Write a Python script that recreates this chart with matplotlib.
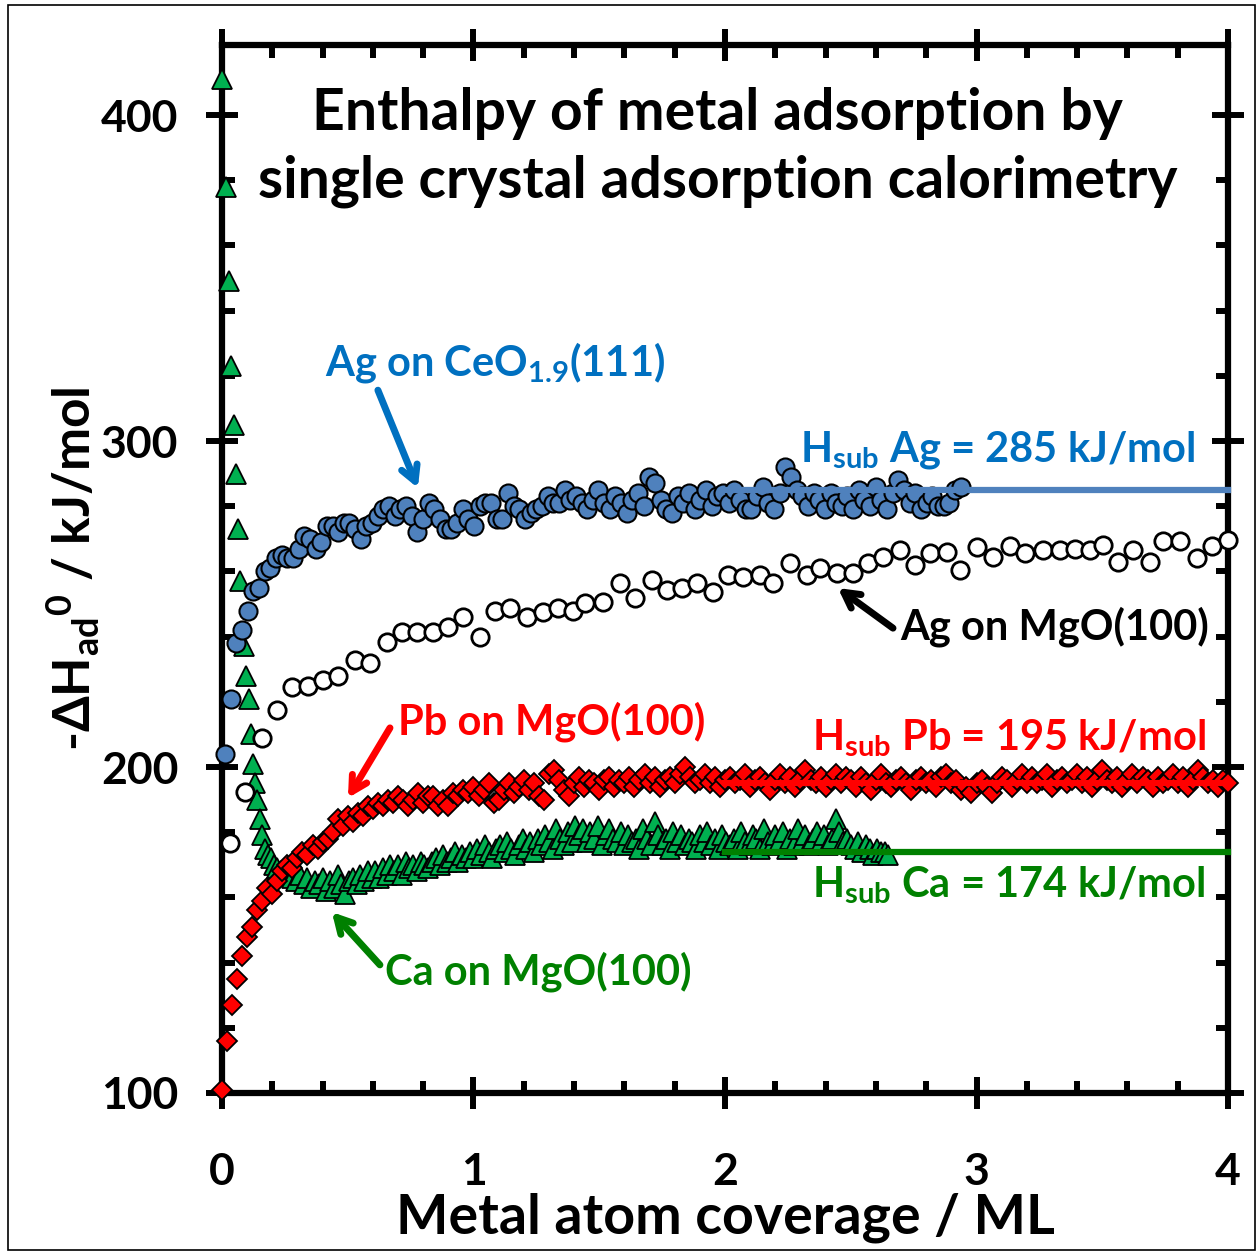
import numpy as np
import matplotlib
matplotlib.use("Agg")
import matplotlib.pyplot as plt
from matplotlib.patches import Rectangle

plt.rcParams['font.family'] = ['Lato', 'DejaVu Sans']
plt.rcParams['font.weight'] = 'bold'
plt.rcParams['axes.labelweight'] = 'bold'
plt.rcParams['mathtext.default'] = 'regular'

# Ag on CeO1.9(111): one point per pulse, constant pulse size
ag_ceo_x0, ag_ceo_step = 0.012, 0.0225
ag_ceo_y = [204, 221, 238, 242, 248, 254, 255, 260, 261, 264,
            265, 264, 264, 267, 271, 270, 267, 269, 274, 274,
            272, 275, 275, 273, 270, 274, 275, 277, 279, 280,
            277, 279, 280, 277, 272, 276, 281, 279, 276, 273,
            273, 275, 279, 276, 274, 280, 281, 281, 276, 276,
            284, 280, 279, 276, 278, 279, 280, 283, 281, 281,
            285, 282, 283, 281, 279, 282, 285, 281, 279, 283,
            281, 278, 282, 284, 280, 289, 287, 282, 279, 278,
            283, 281, 284, 279, 282, 285, 280, 283, 284, 281,
            285, 282, 279, 279, 283, 286, 281, 279, 284, 292,
            289, 285, 283, 280, 284, 282, 279, 284, 281, 280,
            283, 279, 285, 282, 280, 286, 282, 279, 284, 288,
            285, 281, 284, 279, 281, 283, 280, 280, 281, 285, 286]

# Ag on MgO(100)
ag_mgo_x = [0.032, 0.091, 0.159, 0.219, 0.278, 0.342, 0.402, 0.461, 0.529, 0.588,
            0.656, 0.716, 0.775, 0.839, 0.899, 0.958, 1.026, 1.085, 1.145, 1.213,
            1.276, 1.336, 1.396, 1.445, 1.515, 1.583, 1.642, 1.710, 1.769, 1.829,
            1.889, 1.952, 2.012, 2.072, 2.139, 2.191, 2.258, 2.326, 2.378, 2.445,
            2.509, 2.569, 2.628, 2.696, 2.755, 2.815, 2.883, 2.934, 3.002, 3.066,
            3.133, 3.193, 3.264, 3.332, 3.392, 3.451, 3.503, 3.563, 3.622, 3.690,
            3.742, 3.809, 3.877, 3.936, 4.000]
ag_mgo_y = [176.7, 192.3, 208.9, 217.5, 224.5, 225.0, 226.7, 228.0, 232.8, 232.0,
            238.3, 241.4, 241.4, 241.4, 243.0, 246.0, 240.0, 248.0, 248.8, 246.0,
            247.5, 248.8, 248.0, 250.3, 250.6, 256.4, 252.0, 257.4, 254.3, 255.0,
            256.4, 253.7, 258.9, 258.3, 258.9, 256.4, 262.6, 258.9, 261.0, 259.5,
            259.5, 262.6, 264.4, 266.6, 262.0, 265.6, 266.0, 260.4, 267.5, 264.4,
            267.8, 265.6, 266.6, 266.6, 266.9, 266.6, 268.0, 262.9, 266.6, 262.9,
            269.3, 269.3, 264.1, 267.8, 269.6]

# Pb on MgO(100)
pb_x0, pb_step = 0.0, 0.02
pb_y = [101, 116, 127, 135, 142, 148, 151, 156, 159, 163,
        161, 165, 168, 170, 169, 172, 174, 173, 176, 175,
        177, 178, 180, 184, 182, 185, 183, 186, 185, 188,
        187, 189, 188, 190, 189, 191, 190, 188, 190, 192,
        189, 191, 191, 188, 190, 188, 192, 191, 193, 192,
        194, 191, 193, 195, 189, 190, 193, 195, 192, 194,
        196, 193, 195, 191, 190, 198, 199, 196, 193, 191,
        195, 197, 194, 196, 195, 193, 196, 197, 194, 196,
        195, 197, 194, 196, 198, 195, 197, 194, 196, 197,
        195, 198, 200, 197, 195, 196, 198, 195, 197, 194,
        196,
        197, 195, 196, 198, 194, 196, 197, 195, 193, 196, 198, 195, 197, 194, 196, 199, 196, 195, 197, 194,
        196, 198, 195, 197, 196, 194, 197, 195, 193, 196, 198, 195, 194, 196, 197, 195, 193, 196, 197, 195,
        196, 194, 197, 198, 195, 196, 193, 194, 192, 195, 196, 194, 192, 195, 197, 196, 194, 196, 198, 195,
        197, 195, 196, 198, 194, 196, 197, 195, 196, 198, 195, 197, 194, 196, 199, 196, 195, 197, 194, 196,
        198, 195, 197, 196, 194, 197, 195, 196, 198, 195, 197, 194, 196, 199, 197, 195, 196, 194, 196, 195]

# Ca on MgO(100): first pulses, then constant pulse size
ca_x_init = [0.0, 0.016, 0.028, 0.036, 0.048, 0.056, 0.064, 0.072, 0.087, 0.095, 0.107,
             0.115, 0.123, 0.131, 0.139, 0.151, 0.159, 0.171, 0.183, 0.195, 0.207, 0.219]
ca_y_init = [411, 378, 349, 323, 305, 290, 273, 257, 237, 228, 221,
             210, 201, 195, 190, 184, 179, 175, 173, 172, 170, 169]
ca_x0, ca_step = 0.235, 0.015
ca_y = [168, 167, 169, 166, 165, 167, 164, 166, 163, 165,
        164, 166, 162, 165, 163, 167, 164, 161, 165, 166,
        164, 167, 165, 168, 166, 168, 166, 169, 167, 170,
        168, 170, 167, 171, 169, 170, 168, 171, 170, 169,
        171, 172, 170, 173, 171, 172, 174, 171, 173, 172,
        174, 172, 175, 173, 176, 174, 172, 175, 176, 174,
        177, 175, 173, 176, 178, 175, 177, 174, 178, 176,
        179, 177, 175, 181, 178, 176, 180, 177, 182, 179,
        181, 177, 180, 178, 182, 176, 179, 181, 178, 177,
        180, 176, 179, 177, 178, 175, 181, 178, 176, 183,
        179, 176, 178, 175, 180, 177, 179, 176, 178, 177,
        175, 179, 177, 180, 176, 178, 175, 179, 177, 176,
        178, 175, 180, 177, 176, 179, 178, 175, 181, 177,
        176, 179, 177, 180, 175, 178, 176, 181, 177, 179,
        176, 178, 180, 177, 179, 176, 178, 184, 180, 177,
        178, 176, 175, 177, 174, 176, 175, 173, 175, 174,
        174, 173]

# sublimation enthalpies (kJ/mol)
hsub_ag, hsub_pb, hsub_ca = 285, 195, 174

BLUE_FILL = '#4F81BD'
BLUE_TEXT = '#0070C0'
RED = '#FF0000'
GREEN_FILL = '#00B050'
GREEN_TEXT = '#008000'

ag_ceo_x = ag_ceo_x0 + ag_ceo_step * np.arange(len(ag_ceo_y))
pb_x = pb_x0 + pb_step * np.arange(len(pb_y))
ca_x = np.concatenate([ca_x_init, ca_x0 + ca_step * np.arange(len(ca_y))])
ca_all = np.concatenate([ca_y_init, ca_y])

fig = plt.figure(figsize=(12.59, 12.53), dpi=100)
ax = fig.add_axes([0.1763, 0.1277, 0.7991, 0.8364])

mk = dict(linestyle='none', clip_on=False)
ax.plot(ca_x, ca_all, marker='^', ms=14.5, mfc=GREEN_FILL, mec='black', mew=1.3, zorder=3, **mk)
ax.plot(pb_x, pb_y, marker='D', ms=10, mfc=RED, mec='black', mew=1.3, zorder=4, **mk)
ax.plot(ag_mgo_x, ag_mgo_y, marker='o', ms=12.5, mfc='white', mec='black', mew=2.0, zorder=5, **mk)
ax.plot(ag_ceo_x, ag_ceo_y, marker='o', ms=13, mfc=BLUE_FILL, mec='black', mew=1.5, zorder=6, **mk)

# sublimation enthalpy reference lines
ax.plot([2, 4], [hsub_ag, hsub_ag], color=BLUE_FILL, lw=4.5, zorder=7, clip_on=False)
ax.plot([2, 4], [hsub_pb, hsub_pb], color=RED, lw=4.5, zorder=7, clip_on=False)
ax.plot([2, 4], [hsub_ca, hsub_ca], color=GREEN_TEXT, lw=4.5, zorder=7, clip_on=False)

ax.set_xlim(0, 4)
ax.set_ylim(100, 421.5)
ax.set_xticks([0, 1, 2, 3, 4])
ax.set_yticks([100, 200, 300, 400])
ax.set_xticks(np.arange(0.2, 4, 0.2), minor=True)
ax.set_yticks(np.arange(120, 420, 20), minor=True)
ax.tick_params(which='major', direction='inout', length=23, width=4.3,
               top=True, right=True, labelsize=32)
ax.tick_params(which='minor', direction='in', length=9, width=4.3, top=True, right=True)
ax.tick_params(axis='x', which='major', pad=31)
ax.tick_params(axis='y', which='major', pad=20)
for s in ax.spines.values():
    s.set_linewidth(4.5)

ax.set_xlabel('Metal atom coverage / ML', fontsize=40, labelpad=0)
ax.set_ylabel(r'-ΔH$\mathregular{_{ad}}$$\mathregular{^{0}}$ / kJ/mol', fontsize=37, labelpad=-1)

ax.text(1.97, 390, 'Enthalpy of metal adsorption by\nsingle crystal adsorption calorimetry',
        ha='center', va='center', fontsize=41, linespacing=1.35)

ax.text(1.086, 324.2, r'Ag on CeO$\mathregular{_{1.9}}$(111)', color=BLUE_TEXT,
        ha='center', va='center', fontsize=30)
ax.text(3.87, 297.2, r'H$\mathregular{_{sub}}$ Ag = 285 kJ/mol', color=BLUE_TEXT,
        ha='right', va='center', fontsize=30)
ax.text(2.696, 243, 'Ag on MgO(100)', color='black', ha='left', va='center', fontsize=30)
ax.text(0.70, 213.8, 'Pb on MgO(100)', color=RED, ha='left', va='center', fontsize=30)
ax.text(3.91, 208.9, r'H$\mathregular{_{sub}}$ Pb = 195 kJ/mol', color=RED,
        ha='right', va='center', fontsize=30)
ax.text(3.91, 163.8, r'H$\mathregular{_{sub}}$ Ca = 174 kJ/mol', color=GREEN_TEXT,
        ha='right', va='center', fontsize=30)
ax.text(0.648, 137.1, 'Ca on MgO(100)', color=GREEN_TEXT, ha='left', va='center', fontsize=30)

arrows = [((0.62, 315.6), (0.779, 285.6), BLUE_TEXT),
          ((2.668, 242.6), (2.449, 254.9), 'black'),
          ((0.668, 212.0), (0.501, 190.5), RED),
          ((0.628, 139.3), (0.437, 155.5), GREEN_TEXT)]
for tail, tip, c in arrows:
    ax.annotate('', xy=tip, xytext=tail, zorder=8,
                arrowprops=dict(arrowstyle='->,head_length=1.1,head_width=0.6',
                                color=c, lw=5, shrinkA=0, shrinkB=0))

fig.patches.append(Rectangle((0.0064, 0.0024), 0.9904, 0.9936, transform=fig.transFigure,
                             fill=False, lw=1.2, ec='black'))

fig.savefig('out.png', dpi=100)
